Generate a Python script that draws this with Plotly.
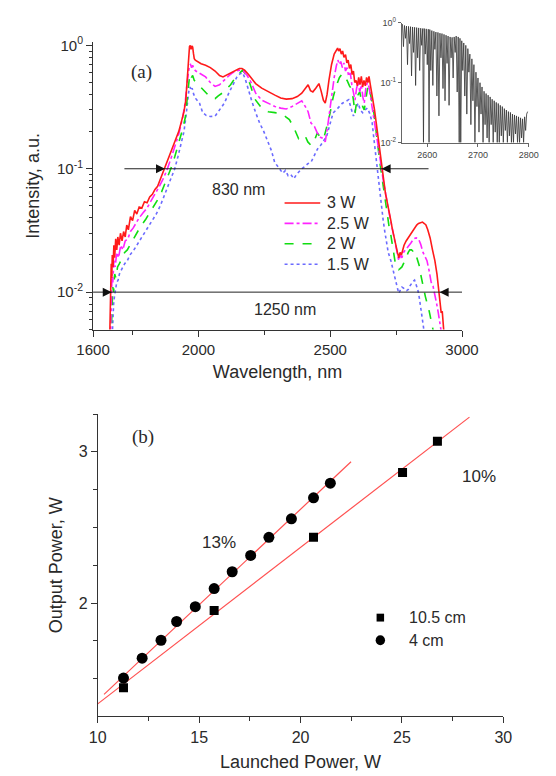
import plotly.graph_objects as go

# ---------------- (a) spectra ----------------
wl_3w = [1663, 1665, 1667, 1669, 1671, 1673, 1676, 1679, 1682, 1686, 1690, 1694, 1699, 1704, 1710, 1716, 1722, 1728, 1734, 1742,
         1750, 1758, 1766, 1775, 1785, 1795, 1805, 1815, 1825, 1835, 1845, 1855, 1865, 1873, 1885, 1900, 1915, 1925, 1935, 1945,
         1952, 1957, 1960, 1963, 1966, 1969, 1972, 1975, 1978, 1981, 1984, 1988, 1993, 1998, 2010, 2027, 2045, 2063, 2080, 2093,
         2108, 2122, 2140, 2155, 2165, 2175, 2190, 2205, 2217, 2240, 2265, 2290, 2312, 2333, 2355, 2375, 2392, 2405, 2416, 2425,
         2434, 2445, 2457, 2465, 2474, 2481, 2488, 2495, 2505, 2515, 2523, 2528, 2532, 2537, 2542, 2547, 2552, 2558, 2563, 2568,
         2573, 2578, 2583, 2588, 2593, 2598, 2603, 2608, 2613, 2618, 2623, 2628, 2633, 2638, 2643, 2647, 2652, 2657, 2662, 2668,
         2674, 2680, 2686, 2690, 2695, 2700, 2705, 2710, 2713, 2718, 2722, 2726, 2730, 2735, 2740, 2745, 2750, 2755, 2760, 2765,
         2770, 2775, 2780, 2788, 2796, 2805, 2812, 2820, 2828, 2835, 2843, 2850, 2857, 2863, 2870, 2879, 2888, 2897, 2905, 2912,
         2917, 2921, 2925, 2928, 2932]
int_3w = [0.004, 0.0065, 0.012, 0.017, 0.013, 0.02, 0.016, 0.024, 0.019, 0.027, 0.022, 0.028, 0.024, 0.03, 0.026, 0.031, 0.028, 0.035, 0.032, 0.041,
          0.038, 0.046, 0.043, 0.049, 0.048, 0.054, 0.053, 0.059, 0.062, 0.068, 0.072, 0.082, 0.092, 0.1, 0.12, 0.145, 0.175, 0.2, 0.24, 0.29,
          0.36, 0.5, 0.7, 0.88, 0.98, 1.0, 0.93, 0.99, 0.97, 0.86, 0.78, 0.76, 0.75, 0.73, 0.71, 0.69, 0.66, 0.62, 0.57, 0.555,
          0.575, 0.6, 0.63, 0.65, 0.65, 0.63, 0.58, 0.53, 0.49, 0.45, 0.42, 0.395, 0.375, 0.367, 0.37, 0.385, 0.41, 0.45, 0.48, 0.43,
          0.42, 0.45, 0.49, 0.43, 0.36, 0.34, 0.4, 0.52, 0.7, 0.85, 0.91, 0.95, 0.9, 0.94, 0.85, 0.9, 0.8, 0.84, 0.72, 0.76,
          0.65, 0.7, 0.58, 0.62, 0.5, 0.52, 0.47, 0.55, 0.48, 0.56, 0.46, 0.52, 0.47, 0.55, 0.5, 0.56, 0.48, 0.42, 0.37, 0.3,
          0.24, 0.19, 0.15, 0.125, 0.1, 0.085, 0.075, 0.062, 0.058, 0.05, 0.046, 0.041, 0.038, 0.033, 0.029, 0.027, 0.024, 0.021, 0.019, 0.021,
          0.02, 0.022, 0.024, 0.026, 0.0275, 0.03, 0.031, 0.033, 0.035, 0.036, 0.0363, 0.037, 0.036, 0.035, 0.032, 0.0275, 0.022, 0.018, 0.014, 0.0105,
          0.0085, 0.0068, 0.007, 0.0055, 0.0045]

wl_25w = [1666, 1668, 1670, 1672, 1675, 1679, 1684, 1690, 1697, 1705, 1713, 1722, 1732, 1742, 1752, 1762, 1775, 1790, 1805, 1820,
          1835, 1850, 1865, 1880, 1895, 1910, 1925, 1940, 1950, 1957, 1962, 1966, 1970, 1974, 1978, 1983, 1990, 2000, 2015, 2027,
          2045, 2063, 2080, 2100, 2120, 2140, 2158, 2170, 2185, 2200, 2217, 2240, 2265, 2290, 2312, 2333, 2355, 2375, 2392, 2405,
          2416, 2427, 2440, 2451, 2463, 2475, 2481, 2490, 2498, 2505, 2515, 2523, 2529, 2534, 2540, 2546, 2552, 2558, 2564, 2570,
          2576, 2582, 2588, 2594, 2600, 2606, 2612, 2618, 2624, 2629, 2635, 2641, 2647, 2653, 2659, 2665, 2671, 2677, 2683, 2689,
          2695, 2700, 2706, 2712, 2718, 2724, 2730, 2737, 2744, 2750, 2755, 2760, 2766, 2772, 2778, 2786, 2796, 2806, 2816, 2826,
          2835, 2843, 2852, 2860, 2867, 2875, 2883, 2890, 2898, 2904, 2910, 2916, 2921]
int_25w = [0.004, 0.006, 0.01, 0.014, 0.012, 0.018, 0.016, 0.021, 0.019, 0.024, 0.022, 0.026, 0.027, 0.031, 0.033, 0.036, 0.04, 0.044, 0.048, 0.055,
           0.062, 0.071, 0.082, 0.097, 0.12, 0.15, 0.19, 0.26, 0.35, 0.5, 0.62, 0.69, 0.7, 0.66, 0.69, 0.64, 0.62, 0.6, 0.58, 0.555,
           0.5, 0.465, 0.48, 0.53, 0.58, 0.62, 0.63, 0.62, 0.57, 0.5, 0.41, 0.36, 0.34, 0.32, 0.31, 0.305, 0.32, 0.34, 0.355, 0.32,
           0.29, 0.235, 0.22, 0.195, 0.18, 0.175, 0.165, 0.22, 0.3, 0.39, 0.55, 0.68, 0.76, 0.7, 0.74, 0.66, 0.72, 0.62, 0.66, 0.56,
           0.6, 0.48, 0.42, 0.36, 0.45, 0.5, 0.42, 0.48, 0.38, 0.34, 0.45, 0.5, 0.46, 0.38, 0.32, 0.28, 0.23, 0.19, 0.15, 0.12,
           0.1, 0.083, 0.072, 0.06, 0.05, 0.043, 0.036, 0.03, 0.026, 0.022, 0.019, 0.018, 0.02, 0.019, 0.021, 0.022, 0.0235, 0.025, 0.027, 0.0275,
           0.027, 0.0245, 0.021, 0.019, 0.018, 0.015, 0.012, 0.0112, 0.0095, 0.008, 0.0068, 0.0057, 0.0048]

wl_2w = [1668, 1670, 1672, 1675, 1678, 1682, 1687, 1693, 1700, 1710, 1720, 1730, 1745, 1760, 1780, 1800, 1815, 1830, 1845, 1860,
         1880, 1895, 1910, 1925, 1940, 1950, 1957, 1962, 1966, 1970, 1974, 1978, 1984, 1992, 2004, 2020, 2040, 2055, 2063, 2075,
         2090, 2105, 2122, 2140, 2155, 2167, 2180, 2195, 2205, 2217, 2240, 2265, 2290, 2312, 2330, 2345, 2360, 2372, 2380, 2392,
         2404, 2415, 2427, 2440, 2451, 2463, 2475, 2487, 2499, 2511, 2523, 2535, 2546, 2555, 2564, 2573, 2582, 2588, 2594, 2600,
         2606, 2612, 2618, 2623, 2629, 2635, 2641, 2647, 2653, 2659, 2665, 2671, 2677, 2683, 2689, 2695, 2701, 2707, 2713, 2719,
         2725, 2730, 2736, 2742, 2748, 2754, 2760, 2765, 2772, 2778, 2784, 2790, 2796, 2802, 2808, 2814, 2820, 2826, 2832, 2837,
         2843, 2849, 2855, 2861, 2867, 2872, 2878, 2885, 2891, 2894]
int_2w = [0.004, 0.006, 0.009, 0.011, 0.01, 0.014, 0.013, 0.016, 0.017, 0.019, 0.021, 0.022, 0.025, 0.029, 0.034, 0.039, 0.044, 0.05, 0.056, 0.065,
          0.083, 0.1, 0.125, 0.16, 0.21, 0.26, 0.36, 0.48, 0.56, 0.59, 0.55, 0.57, 0.52, 0.5, 0.47, 0.43, 0.39, 0.37, 0.37, 0.39,
          0.41, 0.44, 0.48, 0.55, 0.6, 0.63, 0.58, 0.49, 0.42, 0.36, 0.31, 0.29, 0.285, 0.28, 0.265, 0.25, 0.22, 0.19, 0.175, 0.18,
          0.186, 0.165, 0.155, 0.17, 0.195, 0.18, 0.175, 0.22, 0.28, 0.38, 0.47, 0.55, 0.59, 0.55, 0.52, 0.47, 0.44, 0.36, 0.28, 0.35,
          0.4, 0.42, 0.36, 0.32, 0.3, 0.38, 0.44, 0.47, 0.38, 0.34, 0.29, 0.22, 0.175, 0.14, 0.11, 0.088, 0.07, 0.058, 0.047, 0.038,
          0.032, 0.029, 0.024, 0.02, 0.0166, 0.0158, 0.0152, 0.0155, 0.016, 0.017, 0.018, 0.0195, 0.021, 0.022, 0.022, 0.0215, 0.0218, 0.02, 0.0185, 0.0166,
          0.014, 0.012, 0.0107, 0.0092, 0.0082, 0.0076, 0.0066, 0.0057, 0.005, 0.0045]

wl_15w = [1672, 1675, 1678, 1682, 1686, 1690, 1695, 1700, 1710, 1720, 1730, 1740, 1755, 1770, 1790, 1810, 1825, 1840, 1855, 1870,
          1885, 1900, 1910, 1922, 1935, 1945, 1952, 1958, 1963, 1968, 1972, 1976, 1982, 1990, 2004, 2016, 2030, 2045, 2063, 2080,
          2098, 2115, 2130, 2145, 2158, 2168, 2178, 2190, 2203, 2217, 2232, 2248, 2265, 2277, 2289, 2300, 2309, 2320, 2330, 2340,
          2350, 2362, 2372, 2382, 2392, 2405, 2415, 2427, 2440, 2452, 2463, 2475, 2487, 2499, 2511, 2523, 2535, 2546, 2558, 2570,
          2579, 2588, 2597, 2606, 2614, 2623, 2632, 2641, 2650, 2659, 2665, 2671, 2677, 2683, 2688, 2692, 2697, 2701, 2707, 2713,
          2720, 2730, 2738, 2748, 2754, 2760, 2766, 2772, 2778, 2784, 2790, 2796, 2802, 2808, 2814, 2820, 2826, 2832, 2838, 2843,
          2849, 2855, 2858]
int_15w = [0.004, 0.006, 0.008, 0.0095, 0.0105, 0.012, 0.0125, 0.014, 0.0155, 0.017, 0.018, 0.02, 0.022, 0.025, 0.029, 0.034, 0.038, 0.043, 0.05, 0.06,
           0.072, 0.088, 0.1, 0.125, 0.16, 0.2, 0.26, 0.34, 0.42, 0.46, 0.43, 0.45, 0.4, 0.37, 0.34, 0.285, 0.27, 0.265, 0.267, 0.3,
           0.34, 0.41, 0.48, 0.55, 0.59, 0.6, 0.53, 0.43, 0.35, 0.285, 0.235, 0.2, 0.164, 0.14, 0.113, 0.105, 0.1, 0.092, 0.097, 0.088,
           0.09, 0.083, 0.09, 0.095, 0.1, 0.105, 0.11, 0.113, 0.13, 0.145, 0.154, 0.168, 0.185, 0.23, 0.284, 0.3, 0.32, 0.34, 0.35, 0.363,
           0.31, 0.267, 0.31, 0.34, 0.3, 0.284, 0.3, 0.31, 0.28, 0.236, 0.18, 0.136, 0.105, 0.083, 0.066, 0.054, 0.045, 0.038, 0.031, 0.026,
           0.021, 0.018, 0.015, 0.0125, 0.011, 0.0098, 0.0105, 0.011, 0.0108, 0.0104, 0.0103, 0.0105, 0.0112, 0.0118, 0.0122, 0.0125, 0.0115, 0.0105, 0.009, 0.0077,
           0.0064, 0.0053, 0.0045]

# width markers (830 nm at the 0.1 level, 1250 nm at the 0.01 level)
fwhm_line_x = [1719, 2873]
fwhm_level = 0.1
fwhm_edges = [1873, 2695]
full_line_x = [1600, 3000]
full_level = 0.01
full_edges = [1671, 2915]

# inset (absorption detail)
inset_wl = [2551, 2553, 2555, 2557, 2559, 2561, 2563, 2565, 2567, 2569, 2571, 2573, 2575, 2577, 2579, 2581, 2583, 2585, 2587, 2589,
            2591, 2592.5, 2594, 2596, 2598, 2600, 2602, 2603.5, 2605, 2607, 2609, 2611, 2613, 2615, 2617, 2619, 2621, 2623, 2625, 2627,
            2629, 2631, 2633, 2635, 2637, 2639, 2641, 2643, 2645, 2647, 2649, 2651, 2653, 2655, 2657, 2659, 2661, 2663, 2664.5, 2666,
            2668, 2670, 2672, 2674, 2676, 2678, 2680, 2682, 2684, 2686, 2688, 2690, 2692, 2694, 2696, 2698, 2700, 2702, 2704, 2706,
            2708, 2710, 2712, 2714, 2716, 2718, 2720, 2722, 2724, 2726, 2728, 2730, 2732, 2734, 2736, 2738, 2740, 2742, 2744, 2746,
            2748, 2750, 2752, 2754, 2756, 2758, 2760, 2762, 2764, 2766, 2768, 2770, 2772, 2774, 2776, 2778, 2780, 2782, 2784, 2786,
            2788, 2790, 2792, 2794, 2796, 2798]
inset_int = [0.95, 0.40, 0.90, 0.55, 0.88, 0.20, 0.87, 0.45, 0.86, 0.13, 0.85, 0.32, 0.84, 0.09, 0.83, 0.26, 0.82, 0.16, 0.81, 0.42,
             0.80, 0.0101, 0.80, 0.30, 0.79, 0.20, 0.78, 0.0101, 0.77, 0.16, 0.74, 0.09, 0.72, 0.36, 0.70, 0.06, 0.69, 0.028, 0.67, 0.26,
             0.66, 0.08, 0.64, 0.05, 0.62, 0.21, 0.60, 0.042, 0.58, 0.26, 0.57, 0.12, 0.58, 0.32, 0.60, 0.07, 0.58, 0.0101, 0.55, 0.0101,
             0.50, 0.16, 0.46, 0.06, 0.42, 0.03, 0.37, 0.15, 0.30, 0.02, 0.25, 0.05, 0.20, 0.0101, 0.15, 0.04, 0.12, 0.015, 0.10, 0.03,
             0.085, 0.0101, 0.072, 0.02, 0.066, 0.012, 0.062, 0.0101, 0.058, 0.02, 0.053, 0.0101, 0.05, 0.015, 0.047, 0.0101, 0.045, 0.0101, 0.042, 0.013,
             0.04, 0.0101, 0.037, 0.016, 0.035, 0.0101, 0.033, 0.013, 0.032, 0.0101, 0.03, 0.0101, 0.029, 0.014, 0.028, 0.0101, 0.027, 0.0101, 0.026, 0.012,
             0.025, 0.0101, 0.027, 0.016, 0.03, 0.033]

# ---------------- (b) output power ----------------
launched_105 = [11.27, 15.74, 20.64, 25.03, 26.75]
output_105 = [1.439, 1.95, 2.435, 2.863, 3.07]
launched_4 = [11.27, 12.19, 13.12, 13.89, 14.81, 15.74, 16.63, 17.54, 18.44, 19.55, 20.64, 21.47]
output_4 = [1.504, 1.635, 1.754, 1.878, 1.976, 2.096, 2.207, 2.315, 2.435, 2.557, 2.696, 2.793]
fit4_x = [10.31, 22.49]
fit4_y = [1.396, 2.935]
fit105_x = [10.0, 28.33]
fit105_y = [1.333, 3.23]

W, H = 556, 776
FONT = "Liberation Sans, Arial, sans-serif"
SERIF = "Liberation Serif, Times New Roman, serif"
INK = "#2a2a2a"


def px(xp):
    return xp / W


def py(yp):
    return 1 - yp / H


fig = go.Figure()

spec = [
    ("3 W", wl_3w, int_3w, "#ff1a1a", "solid"),
    ("2.5 W", wl_25w, int_25w, "#ff22ff", "dashdot"),
    ("2 W", wl_2w, int_2w, "#11dd11", "dash"),
    ("1.5 W", wl_15w, int_15w, "#6b6bff", "dot"),
]
for name, xs, ys, col, dash in reversed(spec):
    fig.add_trace(go.Scatter(x=xs, y=ys, mode="lines", name=name, showlegend=False,
                             line=dict(color=col, width=1.6, dash=dash), xaxis="x", yaxis="y"))

# width arrows: horizontal line + arrow heads whose tips sit on the spectrum edges
for lx, lvl, edges in [(fwhm_line_x, fwhm_level, fwhm_edges), (full_line_x, full_level, full_edges)]:
    fig.add_trace(go.Scatter(x=lx, y=[lvl, lvl], mode="lines", showlegend=False,
                             line=dict(color="#222", width=1), xaxis="x", yaxis="y", hoverinfo="skip"))
    fig.add_trace(go.Scatter(x=edges, y=[lvl, lvl], mode="markers", showlegend=False,
                             marker=dict(symbol=["arrow-right", "arrow-left"], size=9, color="#111",
                                         line=dict(width=0)),
                             xaxis="x", yaxis="y", hoverinfo="skip"))

fig.add_trace(go.Scatter(x=inset_wl, y=inset_int, mode="lines", showlegend=False,
                         line=dict(color="#333", width=0.8), xaxis="x3", yaxis="y3"))

fig.add_trace(go.Scatter(x=fit105_x, y=fit105_y, mode="lines", showlegend=False,
                         line=dict(color="#ff5050", width=1.2), xaxis="x2", yaxis="y2"))
fig.add_trace(go.Scatter(x=fit4_x, y=fit4_y, mode="lines", showlegend=False,
                         line=dict(color="#ff5050", width=1.2), xaxis="x2", yaxis="y2"))
fig.add_trace(go.Scatter(x=launched_105, y=output_105, mode="markers", name="10.5 cm", showlegend=False,
                         marker=dict(symbol="square", size=9, color="black"), xaxis="x2", yaxis="y2"))
fig.add_trace(go.Scatter(x=launched_4, y=output_4, mode="markers", name="4 cm", showlegend=False,
                         marker=dict(symbol="circle", size=11, color="black"), xaxis="x2", yaxis="y2"))

annotations = [
    dict(x=2151, y=-1.171, xref="x", yref="y", text="830 nm", showarrow=False,
         font=dict(family=FONT, size=16, color=INK)),
    dict(x=2327, y=-2.141, xref="x", yref="y", text="1250 nm", showarrow=False,
         font=dict(family=FONT, size=16, color=INK)),
    dict(x=px(119), y=py(51.5), xref="paper", yref="paper", text="(a)", showarrow=False,
         font=dict(family=SERIF, size=19, color=INK)),
    dict(x=px(120), y=py(436), xref="paper", yref="paper", text="(b)", showarrow=False,
         font=dict(family=SERIF, size=19, color=INK)),
    dict(x=15.96, y=2.40, xref="x2", yref="y2", text="13%", showarrow=False,
         font=dict(family=FONT, size=17, color=INK)),
    dict(x=28.78, y=2.836, xref="x2", yref="y2", text="10%", showarrow=False,
         font=dict(family=FONT, size=17, color=INK)),
]
shapes = []

# legend of panel (a): line samples + labels
leg_rows = [198.3, 219.0, 239.8, 260.6]
for (name, _, _, col, dash), yr in zip(spec, leg_rows):
    shapes.append(dict(type="line", xref="paper", yref="paper", x0=px(285), x1=px(323), y0=py(yr), y1=py(yr),
                       line=dict(color=col, width=1.6, dash=dash)))
    annotations.append(dict(x=px(328), y=py(yr), xref="paper", yref="paper", text=name, showarrow=False,
                            xanchor="left", yanchor="middle", font=dict(family=FONT, size=16, color=INK)))

# legend of panel (b)
shapes.append(dict(type="rect", xref="paper", yref="paper", x0=px(383), x1=px(391), y0=py(624), y1=py(616),
                   fillcolor="black", line=dict(width=0)))
shapes.append(dict(type="circle", xref="paper", yref="paper", x0=px(382), x1=px(392), y0=py(648), y1=py(638),
                   fillcolor="black", line=dict(width=0)))
annotations.append(dict(x=px(415), y=py(620), xref="paper", yref="paper", text="10.5 cm", showarrow=False,
                        xanchor="left", yanchor="middle", font=dict(family=FONT, size=16, color=INK)))
annotations.append(dict(x=px(415), y=py(643), xref="paper", yref="paper", text="4 cm", showarrow=False,
                        xanchor="left", yanchor="middle", font=dict(family=FONT, size=16, color=INK)))

axis_common = dict(showline=True, linecolor="#333", linewidth=1, ticks="outside", ticklen=6,
                   tickcolor="#333", tickwidth=1, showgrid=False, zeroline=False, mirror=False,
                   tickfont=dict(family=FONT, size=15, color=INK))

minor_log = [0.005, 0.006, 0.007, 0.008, 0.009, 0.02, 0.03, 0.04, 0.05, 0.06, 0.07, 0.08, 0.09,
             0.2, 0.3, 0.4, 0.5, 0.6, 0.7, 0.8, 0.9]

fig.update_layout(
    width=W, height=H, margin=dict(l=0, r=0, t=0, b=0),
    paper_bgcolor="white", plot_bgcolor="rgba(0,0,0,0)",
    font=dict(family=FONT, color=INK),
    showlegend=False,
    xaxis=dict(axis_common, domain=[px(81), px(474)], range=[1600, 3000], anchor="y",
               tickmode="array", tickvals=[1600, 2000, 2500, 3000],
               minor=dict(tickmode="array", tickvals=[1750, 2250, 2750], ticks="outside", ticklen=4, tickcolor="#333"),
               title=dict(text="Wavelength, nm", font=dict(family=FONT, size=18, color=INK), standoff=8)),
    yaxis=dict(axis_common, type="log", domain=[py(327), py(35)], range=[-2.303, 0.024], anchor="x",
               tickmode="array", tickvals=[0.01, 0.1, 1],
               ticktext=["10<sup>-2</sup>", "10<sup>-1</sup>", "10<sup>0</sup>"],
               minor=dict(tickmode="array", tickvals=minor_log, ticks="outside", ticklen=3, tickcolor="#333"),
               title=dict(text="Intensity, a.u.", font=dict(family=FONT, size=18, color=INK), standoff=12)),
    xaxis2=dict(axis_common, domain=[px(86), px(518)], range=[10, 30], anchor="y2",
                tickmode="array", tickvals=[10, 15, 20, 25, 30],
                tickfont=dict(family=FONT, size=16, color=INK),
                minor=dict(tickmode="array", tickvals=[12.5, 17.5, 22.5, 27.5], ticks="outside", ticklen=4, tickcolor="#333"),
                title=dict(text="Launched Power, W", font=dict(family=FONT, size=18, color=INK), standoff=10)),
    yaxis2=dict(axis_common, domain=[py(720.5), py(413)], range=[1.25, 3.25], anchor="x2",
                tickmode="array", tickvals=[2, 3],
                tickfont=dict(family=FONT, size=16, color=INK),
                minor=dict(tickmode="array", tickvals=[1.5, 1.75, 2.25, 2.5, 2.75, 3.25], ticks="outside", ticklen=4, tickcolor="#333"),
                title=dict(text="Output Power, W", font=dict(family=FONT, size=18, color=INK), standoff=11)),
    xaxis3=dict(axis_common, domain=[px(410), px(545)], range=[2550, 2800], anchor="y3",
                tickmode="array", tickvals=[2600, 2700, 2800], ticklen=3, linecolor="#666", tickcolor="#666",
                tickfont=dict(family=FONT, size=9, color="#444")),
    yaxis3=dict(axis_common, type="log", domain=[py(137), py(15)], range=[-2, 0], anchor="x3",
                tickmode="array", tickvals=[0.01, 0.1, 1], ticklen=3, linecolor="#666", tickcolor="#666",
                ticktext=["10<sup>-2</sup>", "10<sup>-1</sup>", "10<sup>0</sup>"],
                tickfont=dict(family=FONT, size=9, color="#444")),
    annotations=annotations,
    shapes=shapes,
)

# the page's default 8px body margin would shift the figure; remove it so the chart fills the window exactly
fig.write_html("out.html", config={"displayModeBar": False},
               post_script="document.body.style.margin='0';document.body.style.overflow='hidden';")
